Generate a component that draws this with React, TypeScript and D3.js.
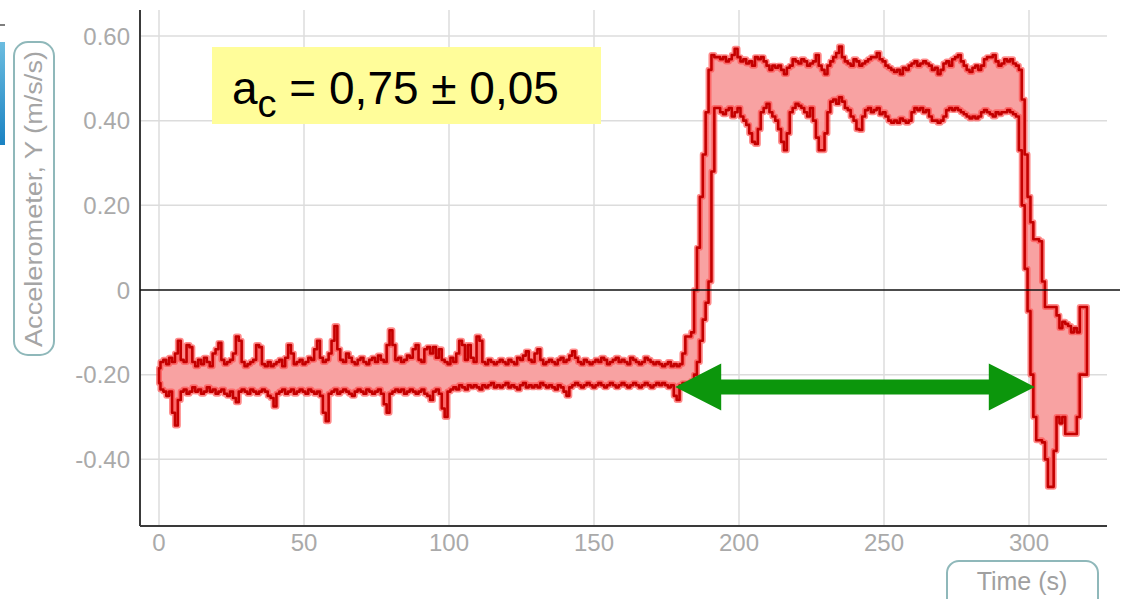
import React, { useEffect, useRef } from 'react';
import * as d3 from 'd3';

// accelerometer band, one value per second (t = 0 .. 320 s)
const upper = [
  -0.185, -0.17, -0.165, -0.175, -0.16, -0.17, -0.15, -0.12, -0.165, -0.17,
  -0.13, -0.135, -0.17, -0.18, -0.165, -0.175, -0.16, -0.17, -0.18, -0.15,
  -0.14, -0.125, -0.165, -0.175, -0.17, -0.165, -0.15, -0.11, -0.12, -0.17,
  -0.18, -0.175, -0.17, -0.165, -0.13, -0.135, -0.175, -0.18, -0.17, -0.18,
  -0.175, -0.17, -0.165, -0.18, -0.16, -0.13, -0.15, -0.175, -0.17, -0.165,
  -0.175, -0.17, -0.16, -0.165, -0.14, -0.12, -0.16, -0.17, -0.165, -0.15,
  -0.12, -0.085, -0.14, -0.165, -0.17, -0.15, -0.16, -0.17, -0.175, -0.165,
  -0.16, -0.17, -0.175, -0.165, -0.16, -0.17, -0.155, -0.165, -0.17, -0.13,
  -0.095, -0.13, -0.165, -0.16, -0.17, -0.165, -0.155, -0.16, -0.14, -0.13,
  -0.165, -0.17, -0.14, -0.135, -0.15, -0.135, -0.16, -0.14, -0.165, -0.17,
  -0.175, -0.16, -0.17, -0.15, -0.12, -0.13, -0.165, -0.13, -0.16, -0.17,
  -0.11, -0.12, -0.17, -0.175, -0.165, -0.17, -0.175, -0.17, -0.165, -0.17,
  -0.175, -0.165, -0.17, -0.175, -0.16, -0.165, -0.155, -0.145, -0.165, -0.17,
  -0.15, -0.14, -0.165, -0.175, -0.17, -0.165, -0.17, -0.175, -0.165, -0.16,
  -0.17, -0.165, -0.155, -0.145, -0.16, -0.17, -0.175, -0.165, -0.17, -0.175,
  -0.17, -0.165, -0.17, -0.16, -0.165, -0.175, -0.17, -0.165, -0.16, -0.17,
  -0.165, -0.17, -0.175, -0.16, -0.165, -0.17, -0.175, -0.17, -0.16, -0.165,
  -0.17, -0.175, -0.17, -0.175, -0.18, -0.175, -0.17, -0.18, -0.175, -0.18,
  -0.175, -0.15, -0.11, -0.11, -0.10, 0.0, 0.1, 0.22, 0.32, 0.42,
  0.52, 0.555, 0.55, 0.55, 0.545, 0.55, 0.54, 0.545, 0.555, 0.57,
  0.55, 0.54, 0.545, 0.535, 0.54, 0.53, 0.55, 0.545, 0.55, 0.54,
  0.53, 0.52, 0.53, 0.525, 0.53, 0.52, 0.51, 0.525, 0.53, 0.545,
  0.54, 0.535, 0.545, 0.54, 0.53, 0.535, 0.54, 0.555, 0.53, 0.52,
  0.51, 0.53, 0.54, 0.55, 0.56, 0.575, 0.55, 0.54, 0.535, 0.53,
  0.545, 0.54, 0.53, 0.535, 0.54, 0.545, 0.55, 0.55, 0.56, 0.545,
  0.54, 0.53, 0.525, 0.52, 0.515, 0.52, 0.51, 0.525, 0.52, 0.53,
  0.535, 0.54, 0.53, 0.535, 0.54, 0.535, 0.53, 0.52, 0.525, 0.51,
  0.52, 0.535, 0.54, 0.53, 0.545, 0.55, 0.555, 0.54, 0.53, 0.52,
  0.515, 0.525, 0.53, 0.52, 0.53, 0.545, 0.55, 0.55, 0.555, 0.54,
  0.53, 0.535, 0.545, 0.54, 0.545, 0.535, 0.53, 0.52, 0.45, 0.32,
  0.22, 0.16, 0.12, 0.12, 0.115, 0.02, -0.04, -0.04, -0.04, -0.04,
  -0.06, -0.09, -0.075, -0.08, -0.085, -0.1, -0.09, -0.1, -0.04, -0.04, -0.04
];

const lower = [
  -0.22, -0.235, -0.24, -0.25, -0.24, -0.29, -0.32, -0.26, -0.24, -0.235,
  -0.245, -0.24, -0.23, -0.24, -0.235, -0.245, -0.24, -0.23, -0.24, -0.235,
  -0.245, -0.24, -0.235, -0.245, -0.25, -0.24, -0.255, -0.265, -0.24, -0.235,
  -0.24, -0.245, -0.235, -0.24, -0.245, -0.24, -0.235, -0.24, -0.25, -0.255,
  -0.275, -0.245, -0.24, -0.235, -0.245, -0.24, -0.235, -0.245, -0.24, -0.235,
  -0.24, -0.245, -0.235, -0.24, -0.245, -0.24, -0.25, -0.29, -0.31, -0.245,
  -0.24, -0.235, -0.245, -0.24, -0.235, -0.24, -0.245, -0.25, -0.24, -0.235,
  -0.24, -0.245, -0.235, -0.24, -0.245, -0.24, -0.235, -0.245, -0.27, -0.29,
  -0.245, -0.24, -0.235, -0.24, -0.235, -0.245, -0.24, -0.235, -0.24, -0.245,
  -0.24, -0.235, -0.245, -0.25, -0.26, -0.24, -0.235, -0.245, -0.28, -0.30,
  -0.24, -0.235, -0.23, -0.235, -0.225, -0.23, -0.235, -0.225, -0.23, -0.225,
  -0.23, -0.235, -0.225, -0.23, -0.225, -0.22, -0.23, -0.225, -0.23, -0.225,
  -0.22, -0.23, -0.225, -0.23, -0.235, -0.225, -0.22, -0.23, -0.225, -0.23,
  -0.225, -0.23, -0.22, -0.225, -0.23, -0.225, -0.23, -0.235, -0.225, -0.23,
  -0.24, -0.25, -0.23, -0.225, -0.22, -0.225, -0.23, -0.225, -0.22, -0.225,
  -0.23, -0.225, -0.22, -0.225, -0.23, -0.225, -0.22, -0.225, -0.23, -0.225,
  -0.22, -0.225, -0.23, -0.225, -0.22, -0.225, -0.23, -0.225, -0.22, -0.225,
  -0.23, -0.225, -0.22, -0.225, -0.22, -0.225, -0.23, -0.225, -0.25, -0.26,
  -0.225, -0.22, -0.22, -0.22, -0.215, -0.2, -0.17, -0.12, -0.07, -0.03,
  0.02, 0.28, 0.43, 0.43, 0.42, 0.415, 0.425, 0.43, 0.41, 0.42,
  0.43, 0.41, 0.40, 0.39, 0.37, 0.35, 0.345, 0.38, 0.42, 0.43,
  0.44, 0.42, 0.41, 0.40, 0.38, 0.35, 0.33, 0.37, 0.42, 0.43,
  0.44, 0.435, 0.43, 0.42, 0.41, 0.43, 0.40, 0.36, 0.33, 0.33,
  0.37, 0.42, 0.445, 0.45, 0.44, 0.455, 0.445, 0.43, 0.425, 0.41,
  0.40, 0.38, 0.378, 0.41, 0.425, 0.43, 0.42, 0.425, 0.43, 0.415,
  0.42, 0.41, 0.40, 0.395, 0.40, 0.395, 0.405, 0.40, 0.395, 0.40,
  0.42, 0.43, 0.425, 0.43, 0.42, 0.425, 0.41, 0.40, 0.40, 0.395,
  0.40, 0.41, 0.425, 0.43, 0.425, 0.43, 0.425, 0.42, 0.415, 0.41,
  0.405, 0.41, 0.405, 0.41, 0.42, 0.425, 0.42, 0.415, 0.41, 0.42,
  0.415, 0.42, 0.42, 0.425, 0.42, 0.415, 0.41, 0.33, 0.2, 0.05,
  -0.05, -0.2, -0.3, -0.355, -0.355, -0.36, -0.4, -0.465, -0.465, -0.38,
  -0.3, -0.315, -0.3, -0.34, -0.34, -0.34, -0.34, -0.3, -0.2, -0.2, -0.2
];

const timeStep = 1;
const xTicks = [0, 50, 100, 150, 200, 250, 300];
const yTicks = [-0.4, -0.2, 0, 0.2, 0.4, 0.6];
const yTickLabels = ['-0.40', '-0.20', '0', '0.20', '0.40', '0.60'];

// green double arrow: from/to time, at this acceleration level
const arrowSpan = [178, 302];
const arrowLevel = -0.229;

const yLabel = 'Accelerometer, Y (m/s/s)';
const xLabel = 'Time (s)';

export default function App() {
  const ref = useRef<SVGSVGElement>(null);

  useEffect(() => {
    const svg = d3.select(ref.current);
    svg.selectAll('*').remove();

    const left = 140, right = 1107, top = 10, bottom = 526;

    const x = d3.scaleLinear().domain([0, 300]).range([159, 1029]);
    const y = d3.scaleLinear().domain([0, 0.6]).range([290, 36]);

    // stray slide bits on the left edge
    const grad = svg.append('defs').append('linearGradient')
      .attr('id', 'blueEdge').attr('x1', 0).attr('y1', 0).attr('x2', 0).attr('y2', 1);
    grad.append('stop').attr('offset', '0%').attr('stop-color', '#6cbde0');
    grad.append('stop').attr('offset', '100%').attr('stop-color', '#1a82c2');
    svg.append('rect').attr('x', 0).attr('y', 42).attr('width', 5).attr('height', 103)
      .style('fill', 'url(#blueEdge)');
    svg.append('line').attr('x1', 0).attr('x2', 5).attr('y1', 25).attr('y2', 25)
      .style('stroke', '#555').style('stroke-width', 1.5);

    // grid
    svg.append('g').selectAll('line').data(xTicks).enter().append('line')
      .attr('x1', d => x(d)).attr('x2', d => x(d))
      .attr('y1', top).attr('y2', bottom)
      .style('stroke', '#dcdcdc').style('stroke-width', 1.5);
    svg.append('g').selectAll('line').data(yTicks.filter(d => d !== 0)).enter().append('line')
      .attr('x1', left).attr('x2', right)
      .attr('y1', d => y(d)).attr('y2', d => y(d))
      .style('stroke', '#dcdcdc').style('stroke-width', 1.5);

    // tick labels
    svg.append('g').selectAll('text').data(xTicks).enter().append('text')
      .attr('x', d => x(d)).attr('y', 551)
      .attr('text-anchor', 'middle')
      .style('font-family', 'Liberation Sans, Arial, sans-serif')
      .style('font-size', '24px').style('fill', '#aaaaaa')
      .text(d => String(d));
    svg.append('g').selectAll('text').data(yTicks).enter().append('text')
      .attr('x', 130).attr('y', d => y(d) + 8.5)
      .attr('text-anchor', 'end')
      .style('font-family', 'Liberation Sans, Arial, sans-serif')
      .style('font-size', '24px').style('fill', '#aaaaaa')
      .text((d, i) => yTickLabels[i]);

    // axis lines
    svg.append('line').attr('x1', left).attr('x2', left).attr('y1', top).attr('y2', bottom)
      .style('stroke', '#3a3a3a').style('stroke-width', 2);
    svg.append('line').attr('x1', left).attr('x2', right).attr('y1', bottom).attr('y2', bottom)
      .style('stroke', '#3a3a3a').style('stroke-width', 2);

    // signal band
    const band = d3.area<number>()
      .x((d, i) => x(i * timeStep))
      .y0((d, i) => y(lower[i]))
      .y1(d => y(d))
      .curve(d3.curveStep);
    const bandPath = band(upper);
    svg.append('path').attr('d', bandPath)
      .style('fill', '#f8a2a2')
      .style('stroke', '#ff4d4d').style('stroke-opacity', 0.65)
      .style('stroke-width', 6).style('stroke-linejoin', 'round');
    svg.append('path').attr('d', bandPath)
      .style('fill', 'none')
      .style('stroke', '#c40000')
      .style('stroke-width', 2.6).style('stroke-linejoin', 'round');

    // zero line
    svg.append('line').attr('x1', left).attr('x2', 1120).attr('y1', y(0)).attr('y2', y(0))
      .style('stroke', '#111').style('stroke-width', 1.5);

    // double arrow
    const x1 = x(arrowSpan[0]), x2 = x(arrowSpan[1]), yc = y(arrowLevel);
    const head = 46, hh = 23.5, sh = 7.5;
    const pts: [number, number][] = [
      [x1, yc], [x1 + head, yc - hh], [x1 + head, yc - sh], [x2 - head, yc - sh],
      [x2 - head, yc - hh], [x2, yc], [x2 - head, yc + hh], [x2 - head, yc + sh],
      [x1 + head, yc + sh], [x1 + head, yc + hh]
    ];
    svg.append('path').attr('d', 'M' + pts.map(p => p.join(',')).join('L') + 'Z')
      .style('fill', '#0c960c');

    // annotation box
    svg.append('rect').attr('x', 212).attr('y', 47).attr('width', 389).attr('height', 77)
      .style('fill', '#fffd9a');
    const ann = svg.append('text').attr('x', 232).attr('y', 103.5)
      .style('font-family', 'Liberation Sans, Arial, sans-serif')
      .style('font-size', '46px').style('fill', '#000');
    ann.append('tspan').text('a');
    ann.append('tspan').attr('dy', 13.5).style('font-size', '38px').text('c');
    ann.append('tspan').attr('dy', -13.5).text(' = 0,75 ± 0,05');

    // axis titles in rounded boxes
    svg.append('rect').attr('x', 14).attr('y', 42).attr('width', 40).attr('height', 313)
      .attr('rx', 14).attr('ry', 14)
      .style('fill', 'none').style('stroke', '#8fb8ba').style('stroke-width', 2);
    svg.append('text')
      .attr('transform', 'translate(34,199) rotate(-90)')
      .attr('y', 8)
      .attr('text-anchor', 'middle')
      .attr('textLength', 296).attr('lengthAdjust', 'spacingAndGlyphs')
      .style('font-family', 'Liberation Sans, Arial, sans-serif')
      .style('font-size', '23px').style('fill', '#a5a5a5')
      .text(yLabel);

    svg.append('rect').attr('x', 947).attr('y', 561).attr('width', 151).attr('height', 50)
      .attr('rx', 12).attr('ry', 12)
      .style('fill', 'none').style('stroke', '#8fb8ba').style('stroke-width', 2);
    svg.append('text')
      .attr('x', 1022).attr('y', 590)
      .attr('text-anchor', 'middle')
      .style('font-family', 'Liberation Sans, Arial, sans-serif')
      .style('font-size', '25px').style('fill', '#a0a0a0')
      .text(xLabel);
  }, []);

  return (
    <svg
      ref={ref}
      width={1123}
      height={599}
      style={{ position: 'absolute', left: 0, top: 0, background: '#fff' }}
    />
  );
}
